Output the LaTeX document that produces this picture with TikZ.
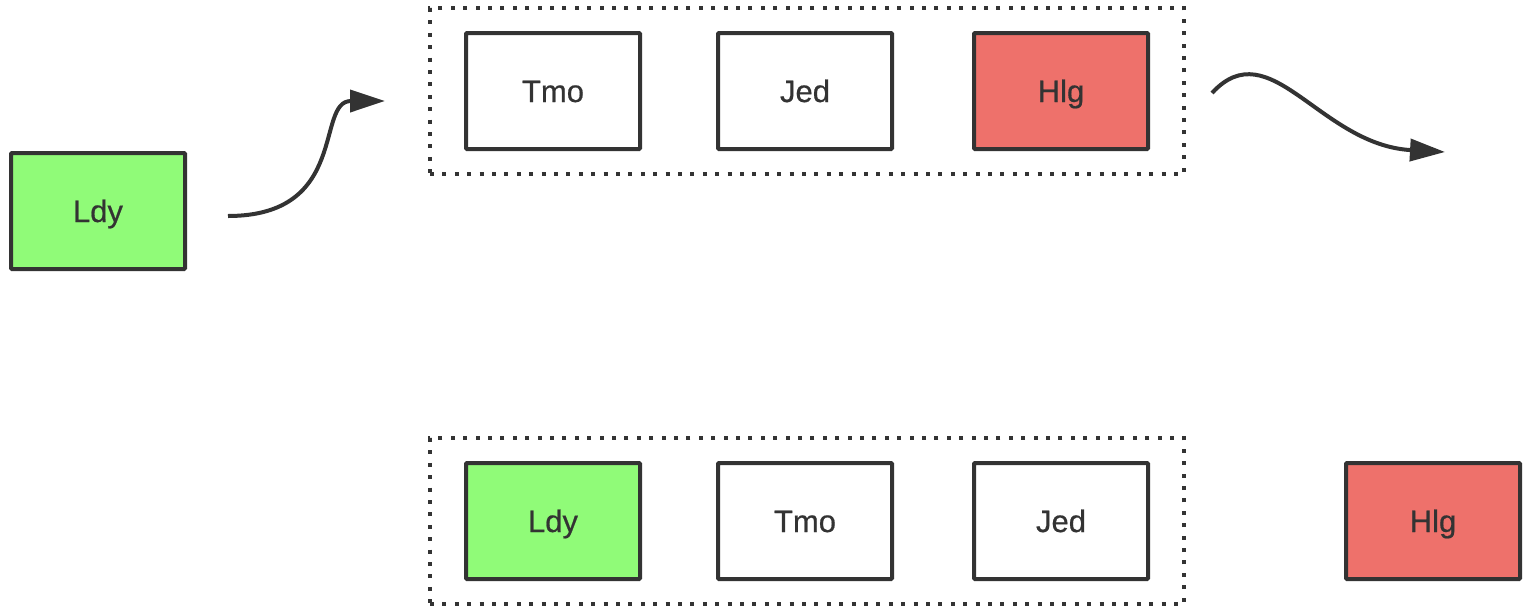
\documentclass[tikz,border=0pt]{standalone}
\usepackage{fontspec}
\setmainfont{Liberation Sans}
\newfontfamily\boxfont[FakeBold=0.6]{Liberation Sans}
\usetikzlibrary{arrows.meta,fit}
\definecolor{ink}{HTML}{333333}
\definecolor{lime}{HTML}{90FB78}
\definecolor{salmon}{HTML}{EE716B}
\tikzset{
  cell/.style={draw=ink, line width=4pt, rounded corners=1pt, fill=white,
    minimum width=174pt, minimum height=116pt, inner sep=0pt,
    text height=22pt, text depth=0pt,
    text=ink, font=\boxfont\fontsize{31}{36}\selectfont},
  greencell/.style={cell, fill=lime},
  redcell/.style={cell, fill=salmon},
  group/.style={draw=ink, line width=4pt, dash pattern=on 4pt off 8.4pt,
    inner xsep=34pt, inner ysep=23pt},
  flow/.style={draw=ink, line width=4pt, -{Triangle[length=35pt,width=22pt]}}
}
\begin{document}
\begin{tikzpicture}[x=1pt,y=-1pt]
\useasboundingbox (0,0) rectangle (1530,614);

\node[greencell] (ldy) at (98,211) {Ldy};

\node[cell] (tmo1) at (553,91) {Tmo};
\node[cell] (jed1) at (805,91) {Jed};
\node[redcell] (hlg1) at (1061,91) {Hlg};
\node[group, fit=(tmo1) (hlg1)] (queue1) {};

\node[greencell] (ldy2) at (553,521) {Ldy};
\node[cell] (tmo2) at (805,521) {Tmo};
\node[cell] (jed2) at (1061,521) {Jed};
\node[group, fit=(ldy2) (jed2)] (queue2) {};

\node[redcell] (hlg2) at (1433,521) {Hlg};

\coordinate (in1) at (228,216);
\coordinate (in2) at (385,101);
\coordinate (out1) at (1212,93);
\coordinate (out2) at (1445,152);

\draw[flow] (in1) .. controls (350,216) and (315,101) .. (in2);
\draw[flow] (out1) .. controls (1270,30) and (1320,145) .. (out2);

\end{tikzpicture}
\end{document}
